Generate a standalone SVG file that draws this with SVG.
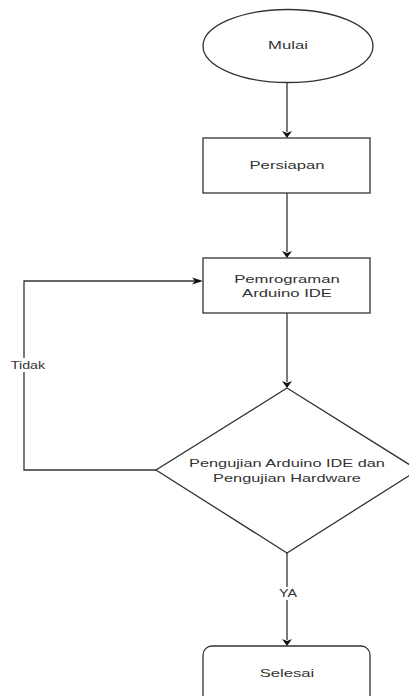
<svg xmlns="http://www.w3.org/2000/svg" width="409" height="696" viewBox="0 0 409 696">
<style>
.shape{fill:#fff;stroke:#333;stroke-width:1.3}
.line{fill:none;stroke:#333;stroke-width:1.3}
.head{fill:#111;stroke:none}
.t{font-family:"Liberation Sans",Arial,sans-serif;font-size:12px;fill:#333;text-anchor:middle}
.l{font-family:"Liberation Sans",Arial,sans-serif;font-size:11px;fill:#333;text-anchor:middle}
</style>
<rect width="409" height="696" fill="#fff"/>
<g id="connectors">
  <path class="line" d="M287,83 V132"/>
  <path class="head" d="M287,138 L282,131 L287,133 L292,131 Z"/>
  <path class="line" d="M287,193 V252"/>
  <path class="head" d="M287,258 L282,251 L287,253 L292,251 Z"/>
  <path class="line" d="M287,313 V382"/>
  <path class="head" d="M287,388 L282,381 L287,383 L292,381 Z"/>
  <path class="line" d="M156,470 H24 V281 H196"/>
  <path class="head" d="M203,281 L192,277.5 L195,281 L192,284.5 Z"/>
  <g id="label-tidak">
    <rect x="9" y="358" width="38" height="14" fill="#fff"/>
    <text class="l" transform="translate(28,369) scale(1.3,0.92)">Tidak</text>
  </g>
  <path class="line" d="M287,553 V640"/>
  <path class="head" d="M287,646 L282,639 L287,641 L292,639 Z"/>
  <g id="label-ya">
    <rect x="277" y="587" width="22" height="13" fill="#fff"/>
    <text class="l" transform="translate(288,597) scale(1.3,0.92)">YA</text>
  </g>
</g>
<g id="mulai">
  <ellipse class="shape" cx="288" cy="46" rx="85" ry="36.5"/>
  <text class="t" transform="translate(288,49) scale(1.39,0.92)">Mulai</text>
</g>
<g id="persiapan">
  <rect class="shape" x="203" y="138" width="167" height="55"/>
  <text class="t" transform="translate(287,169) scale(1.39,0.92)">Persiapan</text>
</g>
<g id="pemrograman">
  <rect class="shape" x="203" y="258" width="167" height="55"/>
  <text class="t" transform="translate(287,283) scale(1.39,0.92)">Pemrograman</text>
  <text class="t" transform="translate(287,297) scale(1.39,0.92)">Arduino IDE</text>
</g>
<g id="pengujian">
  <path class="shape" d="M287,388 L418,470 L287,553 L156,470 Z"/>
  <text class="t" transform="translate(287,467) scale(1.36,0.92)">Pengujian Arduino IDE dan</text>
  <text class="t" transform="translate(287,482) scale(1.36,0.92)">Pengujian Hardware</text>
</g>
<g id="selesai">
  <rect class="shape" x="203" y="646" width="167" height="70" rx="9" ry="9"/>
  <text class="t" transform="translate(287,677) scale(1.39,0.92)">Selesai</text>
</g>
</svg>
